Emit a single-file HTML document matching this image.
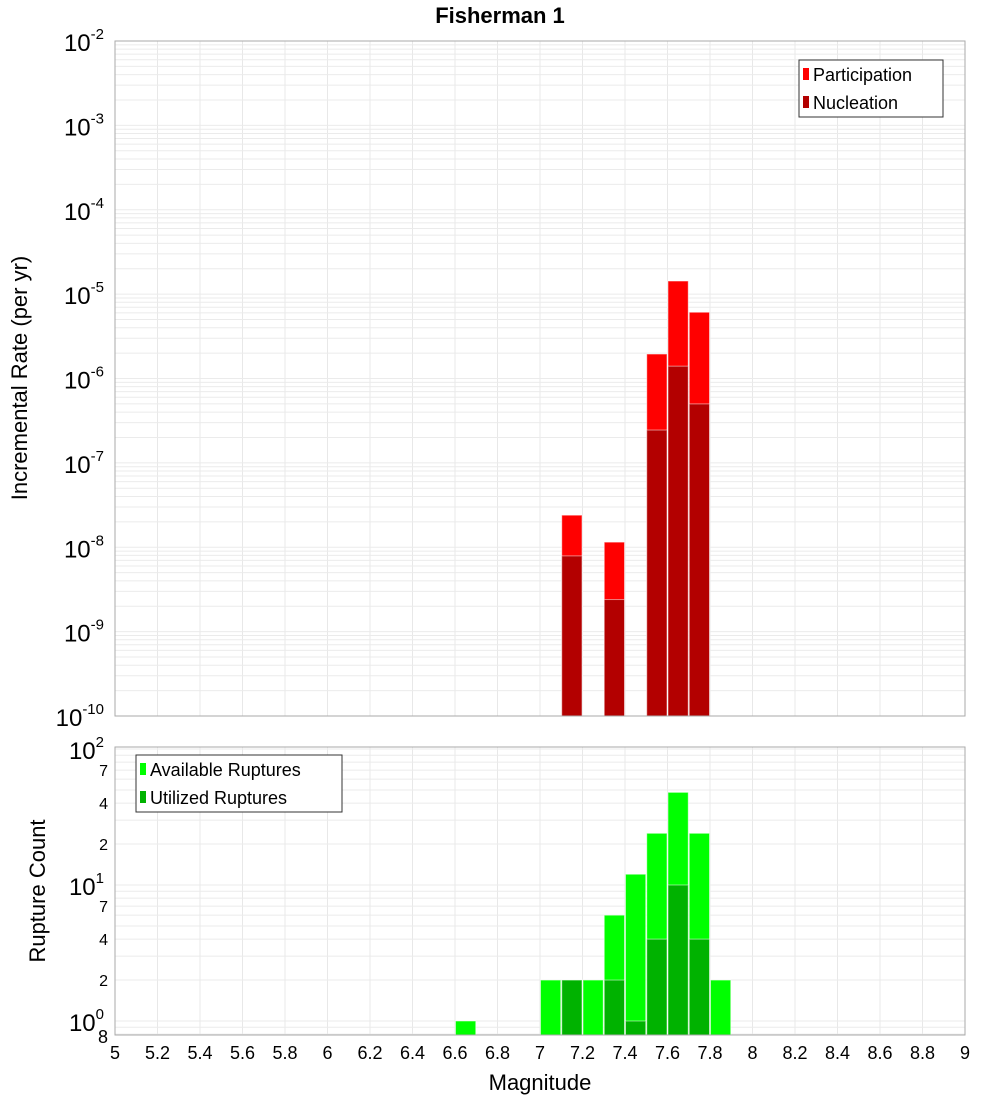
<!DOCTYPE html>
<html><head><meta charset="utf-8"><style>
body{margin:0;background:#fff}
svg{font-family:"Liberation Sans","DejaVu Sans",sans-serif}
</style></head><body>
<svg id="c" width="1000" height="1100" viewBox="0 0 1000 1100" xmlns="http://www.w3.org/2000/svg">
<text x="500" y="23" text-anchor="middle" font-size="22" font-weight="bold">Fisherman 1</text>
<g id="top"></g><g id="bot"></g>
</svg>
<script>
const magBins=[7.15,7.35,7.55,7.65,7.75];
const participation=[2.4e-8,1.15e-8,1.95e-6,1.43e-5,6.1e-6];
const nucleation=[7.9e-9,2.4e-9,2.45e-7,1.4e-6,5e-7];
const countBins=[6.65,7.05,7.15,7.25,7.35,7.45,7.55,7.65,7.75,7.85];
const available=[1,2,2,2,6,12,24,48,24,2];
const utilizedBins=[7.15,7.35,7.45,7.55,7.65,7.75];
const utilized=[2,2,1,4,10,4];
const xTicks=[5,5.2,5.4,5.6,5.8,6,6.2,6.4,6.6,6.8,7,7.2,7.4,7.6,7.8,8,8.2,8.4,8.6,8.8,9];
const topExps=[-2,-3,-4,-5,-6,-7,-8,-9,-10];
const botExps=[2,1,0];
const botMinor=[7,4,2];

const NS='http://www.w3.org/2000/svg';
const L=115,R=965;
const X=m=>L+(m-5)/4*(R-L);
const Yt=v=>41+(-2-Math.log10(v))*84.375;
const Yb=v=>1021-Math.log10(v)*136;
function mk(p,tag,a){const e=document.createElementNS(NS,tag);for(const k in a)e.setAttribute(k,a[k]);p.appendChild(e);return e;}
const gTop=document.getElementById('top'),gBot=document.getElementById('bot');





function grid(g,y0,y1,Y,dmin,dmax){
  for(const t of xTicks){const l=mk(g,'line',{x1:X(t),x2:X(t),y1:y0,y2:y1,stroke:'#e8e8e8'});
    
    }
  for(let d=dmin;d<=dmax;d++)for(let k=1;k<10;k++){const y=Y(k*Math.pow(10,d));if(y<y0-0.5||y>y1+0.5)continue;const l=mk(g,'line',{x1:L,x2:R,y1:y,y2:y,stroke:'#ebebeb'});
    
    }
}
grid(gTop,41,716,Yt,-10,-3);
grid(gBot,747,1035,Yb,-1,2);

function bar(g,m,v,Y,yb,fill,name){const x0=X(m-0.05),x1=X(m+0.05),y=Y(v);const r=mk(g,'rect',{x:x0+0.5,y:y,width:x1-x0-1,height:yb-y,fill:fill,stroke:'#fff','stroke-opacity':0.5,'stroke-width':1});
  
  }
magBins.forEach((m,i)=>bar(gTop,m,participation[i],Yt,716,'#ff0000','participation-bar'));
magBins.forEach((m,i)=>bar(gTop,m,nucleation[i],Yt,716,'#b30000','nucleation-bar'));
countBins.forEach((m,i)=>bar(gBot,m,available[i],Yb,1035,'#00ff00','available-bar'));
utilizedBins.forEach((m,i)=>bar(gBot,m,utilized[i],Yb,1035,'#00b200','utilized-bar'));

let f=mk(gTop,'rect',{x:L,y:41,width:R-L,height:675,fill:'none',stroke:'#aaa'});


f=mk(gBot,'rect',{x:L,y:747,width:R-L,height:288,fill:'none',stroke:'#aaa'});



function pow(g,e,y,name){const t=mk(g,'text',{x:104,y:y+10,'text-anchor':'end','font-size':24});
  
  
  t.appendChild(document.createTextNode('10'));const s=mk(t,'tspan',{dy:-12,'font-size':15});s.textContent=String(e);}
topExps.forEach(e=>pow(gTop,e,Yt(Math.pow(10,e)),'y-tick-label'));
botExps.forEach(e=>pow(gBot,e,Yb(Math.pow(10,e)),'y-tick-label'));
for(const d of [1,0])for(const k of botMinor){const t=mk(gBot,'text',{x:108,y:Yb(k*Math.pow(10,d))+6,'text-anchor':'end','font-size':16});t.textContent=String(k);
  
  }
let t8=mk(gBot,'text',{x:108,y:1043,'text-anchor':'end','font-size':18});t8.textContent='8';



xTicks.forEach(t=>{const e=mk(gBot,'text',{x:X(t),y:1059,'text-anchor':'middle','font-size':18});e.textContent=String(t);
  
  });
let xt=mk(gBot,'text',{x:540,y:1090,'text-anchor':'middle','font-size':22});xt.textContent='Magnitude';


let yt=mk(gTop,'text',{x:0,y:0,'text-anchor':'middle','font-size':22,transform:'translate(27,378) rotate(-90)'});yt.textContent='Incremental Rate (per yr)';


yt=mk(gBot,'text',{x:0,y:0,'text-anchor':'middle','font-size':22,transform:'translate(45,891) rotate(-90)'});yt.textContent='Rupture Count';



function legend(g,x,y,w,items){const lg=mk(g,'g',{});
  
  
  mk(lg,'rect',{x:x,y:y,width:w,height:57,fill:'#fff',stroke:'#333'});
  items.forEach((it,i)=>{const cy=y+14+i*28;const s=mk(lg,'rect',{x:x+4,y:cy-6,width:6,height:12,fill:it[1]});
    
    
    const t=mk(lg,'text',{x:x+14,y:cy+7,'font-size':18});t.textContent=it[0];
    
    });}
legend(gTop,799,60,144,[['Participation','#ff0000'],['Nucleation','#b30000']]);
legend(gBot,136,755,206,[['Available Ruptures','#00ff00'],['Utilized Ruptures','#00b200']]);
</script>
</body></html>
